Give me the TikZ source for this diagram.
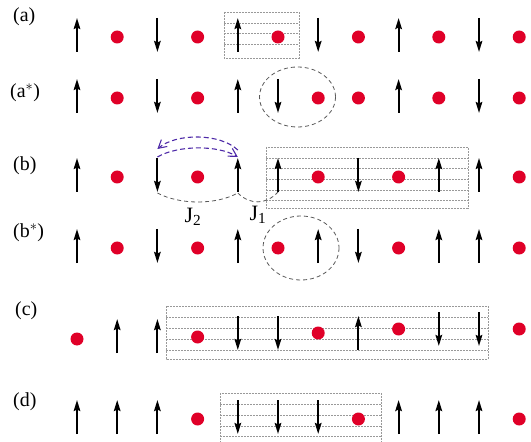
\documentclass[tikz,border=0pt]{standalone}
\usepackage{fontspec}
\setmainfont{Liberation Serif}
\usepackage{tikz}
\usetikzlibrary{arrows.meta}
\usepackage{xcolor}
\definecolor{holered}{RGB}{224,0,40}
\definecolor{hopblue}{RGB}{78,42,168}
\newcommand{\spinsite}[3]{%
  \ifnum#3=0 \fill[holered] (#1,{#2+2}) circle (6.5);%
  \else \draw[spin] (#1,{#2+17*(#3)}) -- (#1,{#2-17*(#3)});\fi}

\begin{document}
\begin{tikzpicture}[x=1bp,y=-1bp,line cap=butt,
  spin/.style={line width=2bp,-{Stealth[length=11bp,width=6.5bp,inset=1.5bp]}},
  guide/.style={gray!80,dash pattern=on 2bp off 1bp,line width=0.7bp},
  coupling/.style={gray!70!black,dash pattern=on 4bp off 3bp,line width=0.8bp},
  hop/.style={hopblue,dash pattern=on 5bp off 3bp,line width=1.1bp,-{Straight Barb[length=8bp,width=9bp]}},
  tag/.style={font=\fontsize{20}{24}\selectfont,anchor=west,inner sep=0pt}]
\useasboundingbox (0,0) rectangle (531,442);
% shaded blocks
\draw[guide] (224,12) rectangle (299,58);
\foreach \yy in {23,33,44} \draw[guide] (224,\yy) -- (299,\yy);
\draw[guide] (266,147) rectangle (468,208);
\foreach \yy in {158,168,179,190,200} \draw[guide] (266,\yy) -- (468,\yy);
\draw[guide] (166,306) rectangle (488,359);
\foreach \yy in {317,328,339,350} \draw[guide] (166,\yy) -- (488,\yy);
\draw[guide] (220,393) rectangle (381,450);
\foreach \yy in {404,415,426,436} \draw[guide] (220,\yy) -- (381,\yy);
\draw[coupling] (297.5,97) ellipse [x radius=38,y radius=30];
\draw[coupling] (301,248) ellipse [x radius=38,y radius=32];
% rows
\node[tag] (rowa) at (13,17) {(a)};
\node[tag] (rowastar) at (10,93) {(a$^*$)};
\node[tag] (rowb) at (13,166) {(b)};
\node[tag] (rowbstar) at (13,233) {(b$^*$)};
\node[tag] (rowc) at (15,311) {(c)};
\node[tag] (rowd) at (13,402) {(d)};
\foreach \s [count=\i from 0] in {1,0,-1,0,1,0,-1,0,1,0,-1,0}
  \spinsite{77+40.2*\i}{35}{\s};
\foreach \s [count=\i from 0] in {1,0,-1,0,1,-1,0,0,1,0,-1,0}
  \spinsite{77+40.2*\i}{96}{\s};
\foreach \s [count=\i from 0] in {1,0,-1,0,1,1,0,-1,0,1,1,0}
  \spinsite{77+40.2*\i}{175}{\s};
\foreach \s [count=\i from 0] in {1,0,-1,0,1,0,1,-1,0,1,1,0}
  \spinsite{77+40.2*\i}{246}{\s};
\foreach \s/\yc [count=\i from 0] in {0/337,1/336,1/336,0/335,-1/333,-1/333,0/331,1/333,0/327,-1/329,-1/329,0/327}
  \spinsite{77+40.2*\i}{\yc}{\s};
\foreach \s [count=\i from 0] in {1,1,1,0,-1,-1,-1,0,1,1,1,0}
  \spinsite{77+40.2*\i}{417}{\s};
% exchange paths in (b)
\coordinate (btwotop) at (157.4,157);
\coordinate (bfourtop) at (237.8,157);
\coordinate (btwobot) at (157.4,193);
\coordinate (bfourbot) at (237.8,193);
\coordinate (bfivebot) at (278,192);
\draw[hop] (bfourtop) ++(0,-7) .. controls (220,133) and (176,133) .. ([yshift=8bp]btwotop);
\draw[hop] (btwotop) .. controls (178,145) and (218,145) .. (bfourtop);
\draw[coupling] (btwobot) .. controls (180,205) and (216,205) .. (bfourbot);
\draw[coupling] (bfourbot) .. controls (250,205) and (266,205) .. (bfivebot);
\node[font=\fontsize{22}{24}\selectfont,inner sep=0pt] (jtwo) at (193,217) {J\textsubscript{2}};
\node[font=\fontsize{22}{24}\selectfont,inner sep=0pt] (jone) at (258,215) {J\textsubscript{1}};
\end{tikzpicture}
\end{document}
